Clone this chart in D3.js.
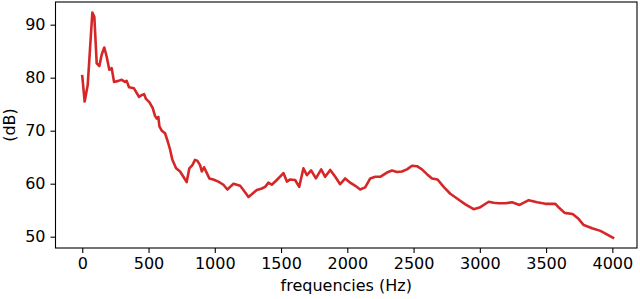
<!DOCTYPE html>
<html lang="en">
<head>
<meta charset="UTF-8">
<title>Spectrum</title>
<script src="https://cdn.jsdelivr.net/npm/d3@7/dist/d3.min.js"></script>
<style>
    body { margin: 0; background: #ffffff; }
    text { font-family: "DejaVu Sans", sans-serif; }
</style>
</head>
<body>
<div id="container"></div>
<script>

    // values
    const freqs = [0, 18, 41, 76, 91, 109, 129, 146, 166, 184, 204, 222, 240, 272, 297, 322, 335, 353,
        390, 428, 448, 466, 481, 506, 531, 549, 562, 574, 582, 600, 625, 642, 662, 680, 708, 738, 763,
        788, 808, 831, 851, 869, 889, 902, 919, 940, 959, 989, 1027, 1065, 1095, 1116, 1141, 1191, 1216,
        1254, 1279, 1317, 1355, 1380, 1405, 1430, 1468, 1518, 1544, 1569, 1606, 1637, 1669, 1695, 1727,
        1763, 1803, 1833, 1871, 1909, 1946, 1984, 2022, 2060, 2097, 2135, 2173, 2211, 2248, 2299, 2337,
        2375, 2412, 2450, 2488, 2526, 2563, 2601, 2639, 2681, 2727, 2777, 2828, 2891, 2953, 2998, 3067,
        3104, 3142, 3193, 3243, 3300, 3369, 3432, 3495, 3570, 3600, 3640, 3700, 3740, 3784, 3847, 3910,
        3948, 4005];
    const levels = [80.3, 75.5, 78.6, 92.3, 91.5, 82.7, 82.2, 84.3, 85.7, 84.0, 81.5, 81.8, 79.2, 79.4,
        79.6, 79.2, 79.4, 78.2, 78.0, 76.4, 76.7, 76.9, 76.0, 75.4, 74.3, 72.8, 72.3, 72.6, 70.8, 70.0,
        69.5, 68.2, 66.5, 64.5, 62.9, 62.3, 61.3, 60.3, 62.9, 63.5, 64.5, 64.3, 63.5, 62.3, 63.1, 62.0,
        61.0, 60.8, 60.4, 59.8, 58.9, 59.4, 60.0, 59.6, 58.8, 57.5, 58.0, 58.8, 59.1, 59.4, 60.2, 59.8,
        60.7, 62.0, 60.4, 60.8, 60.7, 59.4, 62.9, 61.6, 62.5, 61.0, 62.7, 61.3, 62.6, 61.3, 59.9, 61.0,
        60.2, 59.6, 58.9, 59.3, 61.0, 61.3, 61.3, 62.1, 62.5, 62.2, 62.3, 62.7, 63.4, 63.3, 62.7, 61.8,
        61.0, 60.8, 59.4, 58.1, 57.2, 56.1, 55.2, 55.5, 56.6, 56.4, 56.3, 56.3, 56.5, 56.0, 56.9, 56.5,
        56.2, 56.2, 55.4, 54.5, 54.3, 53.5, 52.2, 51.6, 51.1, 50.6, 49.8];
    const xTicks = [0, 500, 1000, 1500, 2000, 2500, 3000, 3500, 4000];
    const yTicks = [50, 60, 70, 80, 90];
    const xLabel = "frequencies (Hz)";
    const yLabel = "(dB)";

    const data = freqs.map((f, i) => ({f: f, db: levels[i]}));

    const W = 640, H = 299;
    const mLeft = 55.5, mRight = 637, mTop = 2, mBottom = 248;

    let svg = d3.select("#container")
        .append("svg")
        .attr("width", W)
        .attr("height", H)
        .style("background-color", "#ffffff");

    let x = d3.scaleLinear()
        .domain([-202, 4186])
        .range([mLeft, mRight]);
    let y = d3.scaleLinear()
        .domain([47.87, 94.28])
        .range([mBottom, mTop]);

    let line = d3.line()
        .x(d => x(d.f))
        .y(d => y(d.db));

    svg.append("path")
        .datum(data)
        .attr("d", line)
        .attr("fill", "none")
        .style("stroke", "#d62728")
        .style("stroke-width", "2.6px")
        .style("stroke-linejoin", "round")
        .style("stroke-linecap", "square");

    // axes
    let xAxis = svg.append("g")
        .attr("transform", "translate(0," + mBottom + ")")
        .call(d3.axisBottom(x).tickValues(xTicks).tickSize(5).tickPadding(5).tickFormat(d3.format("d")));
    let yAxis = svg.append("g")
        .attr("transform", "translate(" + mLeft + ",0)")
        .call(d3.axisLeft(y).tickValues(yTicks).tickSize(5).tickPadding(5).tickFormat(d3.format("d")));

    [xAxis, yAxis].forEach(g => {
        g.select(".domain").remove();
        g.selectAll(".tick line").attr("stroke", "#000").attr("stroke-width", 1.1);
        g.selectAll(".tick text")
            .attr("fill", "#000")
            .style("font-size", "16px")
            .style("font-family", "'DejaVu Sans', sans-serif");
    });

    // frame
    svg.append("rect")
        .attr("x", mLeft)
        .attr("y", mTop)
        .attr("width", mRight - mLeft)
        .attr("height", mBottom - mTop)
        .attr("fill", "none")
        .attr("stroke", "#000")
        .attr("stroke-width", 1.1);

    svg.append("text")
        .attr("x", (mLeft + mRight) / 2)
        .attr("y", 291)
        .attr("text-anchor", "middle")
        .style("font-size", "16px")
        .text(xLabel);

    svg.append("text")
        .attr("transform", "translate(14.5," + ((mTop + mBottom) / 2) + ") rotate(-90)")
        .attr("text-anchor", "middle")
        .style("font-size", "16px")
        .text(yLabel);

</script>
</body>
</html>
